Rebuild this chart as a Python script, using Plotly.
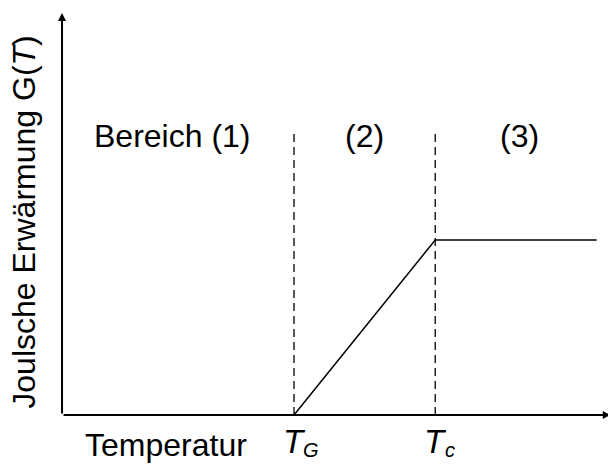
import plotly.graph_objects as go

# Schematic G(T): zero below T_G, linear rise between T_G and T_c, constant above T_c
T_G = 2.3
T_c = 3.7
T_end = 5.3
G_plateau = 1.75

curve_T = [T_G, T_c, T_end]
curve_G = [0.0, G_plateau, G_plateau]

# Region boundaries (dashed) and their height
boundary_T = [T_G, T_c]
boundary_top = 2.82

# Region labels
region_labels = ["Bereich (1)", "(2)", "(3)"]
region_T = [1.10, 3.00, 4.54]
region_G = 2.79

# Axis extents (arrow tips)
x_axis_tip = 5.44
y_axis_tip = 4.02

FONT = "Liberation Sans, Arial, sans-serif"

fig = go.Figure()

fig.add_trace(go.Scatter(
    x=curve_T, y=curve_G, mode="lines",
    line=dict(color="black", width=1.5),
    hoverinfo="skip", showlegend=False,
))

for tb in boundary_T:
    fig.add_trace(go.Scatter(
        x=[tb, tb], y=[0, boundary_top], mode="lines",
        line=dict(color="black", width=1.3, dash="8px,5px"),
        hoverinfo="skip", showlegend=False,
    ))

annotations = []

# Axes with arrowheads
annotations.append(dict(
    x=x_axis_tip, y=0, ax=0, ay=0, xref="x", yref="y", axref="x", ayref="y",
    text="", showarrow=True, arrowhead=2, arrowsize=0.8, arrowwidth=2,
    arrowcolor="black",
))
annotations.append(dict(
    x=0, y=y_axis_tip, ax=0, ay=0, xref="x", yref="y", axref="x", ayref="y",
    text="", showarrow=True, arrowhead=2, arrowsize=0.8, arrowwidth=2,
    arrowcolor="black",
))

for lbl, xt in zip(region_labels, region_T):
    annotations.append(dict(
        x=xt, y=region_G, xref="x", yref="y", text=lbl, showarrow=False,
        xanchor="center", yanchor="middle",
        font=dict(family=FONT, size=32, color="black"),
    ))

# Axis titles
annotations.append(dict(
    x=1.03, y=-0.30, xref="x", yref="y", text="Temperatur", showarrow=False,
    xanchor="center", yanchor="middle",
    font=dict(family=FONT, size=32, color="black"),
))
annotations.append(dict(
    x=-0.38, y=1.93, xref="x", yref="y",
    text="Joulsche Erwärmung G(<i>T</i>)", showarrow=False,
    textangle=-90, xanchor="center", yanchor="middle",
    font=dict(family=FONT, size=32, color="black"),
))

# Temperature marks T_G and T_c
temp_marks = [("G", T_G, 17), ("c", T_c, 15)]
for sub, xt, dx in temp_marks:
    annotations.append(dict(
        x=xt, y=-0.26, xref="x", yref="y", text="<i>T</i>", showarrow=False,
        xanchor="center", yanchor="middle",
        font=dict(family=FONT, size=33, color="black"),
    ))
    annotations.append(dict(
        x=xt, xshift=dx, y=-0.475, xref="x", yref="y", text=f"<i>{sub}</i>",
        showarrow=False, xanchor="center", yanchor="bottom",
        font=dict(family=FONT, size=20, color="black"),
    ))

fig.update_layout(
    width=608, height=464,
    margin=dict(l=0, r=0, t=0, b=0),
    paper_bgcolor="white", plot_bgcolor="white",
    xaxis=dict(range=[-0.615, 5.413], visible=False, fixedrange=True),
    yaxis=dict(range=[-0.49, 4.15], visible=False, fixedrange=True),
    annotations=annotations,
    showlegend=False,
)

fig.write_html("out.html")
